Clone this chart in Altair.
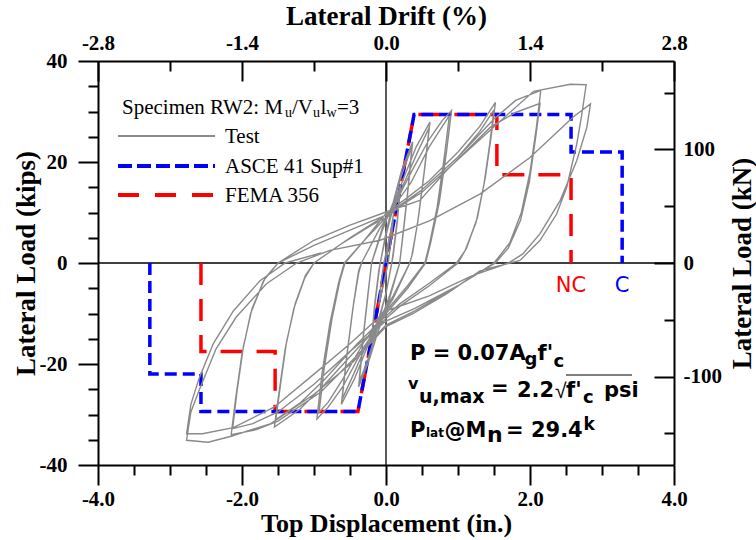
import altair as alt
import pandas as pd

# ---------------- data ----------------
# Test record of specimen RW2: (top displacement [in.], lateral load [kips]), in loading order
cyc_010 = [(0.0, 0.0), (0.05, 5.0), (0.10, 8.6), (0.07, 4.5), (0.03, 0.0), (-0.04, -4.5), (-0.10, -8.4),
           (-0.07, -4.3), (-0.03, 0.0), (0.04, 4.6), (0.10, 8.4), (0.07, 4.4), (0.03, 0.0), (-0.04, -4.6),
           (-0.10, -8.3), (-0.07, -4.0), (-0.03, 0.0)]
cyc_020 = [(0.05, 5.0), (0.12, 11.0), (0.20, 15.5), (0.16, 9.0), (0.10, 2.0), (0.08, 0.0), (0.0, -6.0),
           (-0.10, -11.5), (-0.20, -15.8), (-0.16, -9.0), (-0.10, -2.0), (-0.08, 0.0), (0.0, 5.5),
           (0.10, 11.0), (0.20, 15.0), (0.16, 8.5), (0.10, 1.5), (0.08, 0.0), (0.0, -6.0), (-0.10, -11.0),
           (-0.20, -15.3), (-0.16, -8.5), (-0.10, -1.5), (-0.08, 0.0)]
cyc_035 = [(0.0, 6.0), (0.10, 12.0), (0.22, 18.5), (0.37, 24.0), (0.31, 15.0), (0.24, 6.0), (0.19, 0.0),
           (0.05, -7.0), (-0.12, -14.0), (-0.24, -19.5), (-0.38, -24.5), (-0.32, -15.0), (-0.25, -6.0),
           (-0.20, 0.0), (-0.05, 6.5), (0.10, 12.0), (0.22, 17.5), (0.36, 23.0), (0.30, 14.0), (0.23, 5.0),
           (0.19, 0.0), (0.05, -6.5), (-0.12, -13.0), (-0.25, -19.0), (-0.37, -23.5), (-0.31, -14.0),
           (-0.24, -5.0), (-0.20, 0.0)]
cyc_060 = [(-0.05, 7.0), (0.10, 11.5), (0.25, 17.0), (0.42, 23.0), (0.61, 27.9), (0.54, 19.0), (0.45, 9.0),
           (0.37, 2.0), (0.33, 0.0), (0.10, -7.0), (-0.10, -11.5), (-0.27, -17.0), (-0.44, -23.0),
           (-0.62, -28.0), (-0.55, -19.0), (-0.46, -9.0), (-0.38, -2.0), (-0.34, 0.0), (-0.10, 6.5),
           (0.10, 11.0), (0.27, 16.5), (0.44, 22.0), (0.60, 26.8), (0.53, 18.0), (0.44, 8.0), (0.36, 1.5),
           (0.33, 0.0), (0.10, -6.5), (-0.10, -11.0), (-0.28, -16.5), (-0.45, -22.0), (-0.61, -27.0),
           (-0.54, -18.0), (-0.45, -8.0), (-0.38, -1.5), (-0.34, 0.0)]
cyc_090 = [(-0.10, 6.5), (0.10, 11.0), (0.35, 18.0), (0.60, 24.5), (0.78, 28.2), (0.91, 30.2), (0.84, 22.0),
           (0.74, 12.0), (0.62, 4.0), (0.55, 0.0), (0.30, -5.0), (0.0, -10.0), (-0.30, -16.5),
           (-0.60, -24.5), (-0.80, -28.5), (-0.96, -30.9), (-0.89, -22.0), (-0.78, -12.0), (-0.66, -4.0),
           (-0.58, 0.0), (-0.30, 4.5), (0.0, 9.0), (0.35, 16.0), (0.60, 23.0), (0.78, 27.0), (0.88, 29.2),
           (0.81, 21.0), (0.71, 11.0), (0.60, 3.5), (0.54, 0.0), (0.30, -4.5), (0.0, -9.5), (-0.30, -15.5),
           (-0.60, -23.0), (-0.80, -27.5), (-0.93, -29.6), (-0.86, -21.0), (-0.75, -11.0), (-0.64, -3.5),
           (-0.57, 0.0)]
cyc_150 = [(-0.30, 4.5), (0.0, 9.8), (0.30, 13.0), (0.60, 16.3), (1.00, 22.0), (1.30, 27.0), (1.52, 31.8),
           (1.46, 25.0), (1.38, 17.0), (1.27, 9.0), (1.12, 3.0), (1.00, 0.0), (0.60, -4.5), (0.20, -8.5),
           (0.0, -11.0), (-0.40, -17.0), (-0.85, -24.0), (-1.20, -29.0), (-1.55, -32.5), (-1.48, -25.0),
           (-1.40, -17.0), (-1.28, -9.0), (-1.13, -3.0), (-1.00, 0.0), (-0.60, 4.0), (-0.20, 7.5),
           (0.0, 9.0), (0.50, 14.5), (1.00, 21.0), (1.30, 26.0), (1.50, 30.3), (1.44, 23.5), (1.36, 15.5),
           (1.25, 8.0), (1.10, 2.5), (0.98, 0.0), (0.60, -4.0), (0.20, -8.0), (0.0, -10.5), (-0.40, -16.0),
           (-0.85, -23.0), (-1.20, -27.8), (-1.53, -31.0), (-1.46, -23.5), (-1.38, -15.5), (-1.26, -8.0),
           (-1.12, -2.5), (-1.00, 0.0)]
cyc_210 = [(-0.50, 5.0), (0.0, 9.5), (0.50, 14.5), (1.00, 21.0), (1.50, 28.5), (1.80, 32.2), (2.15, 34.2),
           (2.09, 27.0), (2.00, 18.0), (1.88, 10.0), (1.72, 4.0), (1.50, 0.0), (1.00, -4.5), (0.40, -9.5),
           (0.0, -12.3), (-0.45, -19.0), (-0.90, -25.5), (-1.50, -31.3), (-1.80, -33.0), (-2.15, -34.0),
           (-2.09, -27.0), (-2.00, -18.0), (-1.88, -10.0), (-1.70, -3.5), (-1.50, 0.0), (-1.00, 4.5),
           (-0.50, 7.5), (0.0, 10.1), (0.47, 12.4), (0.84, 18.3), (1.45, 26.9), (1.80, 29.8), (2.14, 31.6),
           (2.08, 25.0), (1.99, 16.0), (1.87, 8.5), (1.70, 3.0), (1.52, 0.0), (1.00, -4.5), (0.40, -9.0),
           (0.0, -11.5), (-0.50, -17.5), (-1.00, -24.0), (-1.50, -29.5), (-1.85, -31.8), (-2.13, -32.8),
           (-2.07, -25.5), (-1.98, -16.5), (-1.86, -9.0), (-1.68, -3.0), (-1.50, 0.0)]
cyc_280 = [(-1.00, 3.5), (-0.50, 6.5), (0.0, 9.5), (0.50, 14.0), (1.00, 20.5), (1.50, 27.0), (2.05, 34.0),
           (2.56, 35.4), (2.78, 35.3), (2.72, 29.5), (2.65, 23.6), (2.51, 15.0), (2.37, 9.7), (2.14, 4.5),
           (1.86, 0.5), (1.31, -1.5), (0.84, -6.1), (0.38, -10.0), (0.0, -12.6), (-0.45, -19.5),
           (-1.00, -26.0), (-1.60, -31.8), (-2.15, -34.3), (-2.47, -35.5), (-2.77, -35.1), (-2.71, -29.5),
           (-2.59, -25.0), (-2.36, -17.0), (-2.08, -10.7), (-1.66, -4.1), (-1.24, 0.0), (-0.78, 2.5),
           (-0.08, 4.5), (0.61, 8.4), (1.31, 13.7), (2.00, 20.9), (2.60, 28.9), (2.84, 31.5), (2.79, 26.9),
           (2.65, 20.3), (2.42, 12.4), (2.14, 5.8), (1.90, 1.8), (1.70, 0.0), (1.20, -2.5), (0.60, -6.5),
           (0.0, -9.5), (-0.50, -16.0), (-1.00, -22.0), (-1.55, -28.5), (-2.12, -32.6), (-2.55, -33.8),
           (-2.77, -33.8), (-2.71, -28.0), (-2.60, -23.0), (-2.40, -16.0), (-2.12, -9.5), (-1.75, -3.5),
           (-1.40, 0.0), (-0.90, 2.0)]

# Backbone models (displacement in., load kips)
asce_x = [-3.28, -3.28, -2.57, -2.57, -0.39, 0.39, 2.57, 2.57, 3.28, 3.28]
asce_y = [0.0, -22.0, -22.0, -29.4, -29.4, 29.4, 29.4, 22.0, 22.0, 0.0]
fema_x = [-2.57, -2.57, -1.54, -1.54, -0.39, 0.39, 1.54, 1.54, 2.57, 2.57]
fema_y = [0.0, -17.5, -17.5, -29.4, -29.4, 29.4, 29.4, 17.5, 17.5, 0.0]

# Axis ticks
disp_ticks = [-4.0, -3.5, -3.0, -2.5, -2.0, -1.5, -1.0, -0.5, 0.0, 0.5, 1.0, 1.5, 2.0, 2.5, 3.0, 3.5, 4.0]
disp_labels = [-4, -2, 0, 2, 4]
kips_ticks = [-40, -35, -30, -25, -20, -15, -10, -5, 0, 5, 10, 15, 20, 25, 30, 35, 40]
kips_labels = [-40, -20, 0, 20, 40]
drift_ticks = [-2.8, -2.1, -1.4, -0.7, 0.0, 0.7, 1.4, 2.1, 2.8]
drift_labels = [-2.8, -1.4, 0.0, 1.4, 2.8]
kn_ticks = [-150, -100, -50, 0, 50, 100, 150]
kn_labels = [-100, 0, 100]

KN_PER_KIP = 4.44822
disp_dom = [-4, 4]
kips_dom = [-40, 40]
drift_dom = [-2.8, 2.8]
kn_dom = [kips_dom[0] * KN_PER_KIP, kips_dom[1] * KN_PER_KIP]

# ---------------- layout / styles ----------------
W, H = 576, 404
SERIF = "Liberation Serif"
SANS = "DejaVu Sans"
GRAY = "#8a8a8a"
BLUE = "#0000ff"
RED = "#ff0000"


def sc(dom):
    return alt.Scale(domain=dom, nice=False, zero=False)


def lab_expr(fmt):
    # plain hyphen for negative numbers
    return f"datum.value < 0 ? '-' + format(-datum.value, '{fmt}') : format(datum.value, '{fmt}')"


common_lab = dict(ticks=False, tickSize=0, domain=False, grid=False, labelFont=SERIF, labelFontSize=21,
                  labelFontWeight="bold", labelColor="black", labelFlush=False, labelOverlap=False,
                  titleFont=SERIF, titleFontWeight="bold", titleColor="black", titleBaseline="alphabetic")
common_tick = dict(labels=False, ticks=True, tickWidth=2, tickColor="black", domain=True, domainWidth=2,
                   domainColor="black", grid=False, title=None)

x_lab_axis = alt.Axis(orient="bottom", values=disp_labels, labelExpr=lab_expr(".1f"), labelBaseline="alphabetic",
                      labelPadding=40, title="Top Displacement (in.)", titleFontSize=26, titleY=66, **common_lab)
y_lab_axis = alt.Axis(orient="left", values=kips_labels, labelExpr=lab_expr("d"), labelBaseline="middle",
                      labelPadding=31, title="Lateral Load (kips)", titleFontSize=27, titleAngle=270, titleX=-64,
                      **common_lab)
x_top_axis = alt.Axis(orient="top", values=drift_labels, labelExpr=lab_expr(".1f"), labelBaseline="alphabetic",
                      labelPadding=12, title="Lateral Drift (%)", titleFontSize=27, titleY=-37, **common_lab)
y_right_axis = alt.Axis(orient="right", values=kn_labels, labelExpr=lab_expr("d"), labelBaseline="middle",
                        labelAlign="left", labelPadding=9, title="Lateral Load (kN)", titleFontSize=27,
                        titleAngle=270, titleX=76, **common_lab)


def tick_size(test):
    return {"condition": {"test": test, "value": 20}, "value": 10}


x_bot_ticks = alt.Axis(orient="bottom", values=disp_ticks, tickSize=tick_size("datum.value % 2 === 0"), **common_tick)
y_left_ticks = alt.Axis(orient="left", values=kips_ticks, tickSize=tick_size("datum.value % 20 === 0"), **common_tick)
# inward ticks on the top and right frame
x_top_ticks = alt.Axis(orient="bottom", offset=-H, values=drift_ticks,
                       tickSize=tick_size("abs(datum.value) % 1.4 < 0.01 || abs(datum.value) % 1.4 > 1.39"),
                       **common_tick)
y_right_ticks = alt.Axis(orient="left", offset=-W, values=kn_ticks,
                         tickSize=tick_size("datum.value % 100 === 0"), **common_tick)

one = pd.DataFrame({"k": [0]})

# ---------------- main data layer ----------------
test_path = cyc_010 + cyc_020 + cyc_035 + cyc_060 + cyc_090 + cyc_150 + cyc_210 + cyc_280
test_df = pd.DataFrame(test_path, columns=["d", "k"])
test_df["i"] = range(len(test_df))
asce_df = pd.DataFrame({"d": asce_x, "k": asce_y, "i": range(len(asce_x))})
fema_df = pd.DataFrame({"d": fema_x, "k": fema_y, "i": range(len(fema_x))})


def xy(df_x="d", df_y="k"):
    return dict(x=alt.X(f"{df_x}:Q", scale=sc(disp_dom), axis=x_lab_axis),
                y=alt.Y(f"{df_y}:Q", scale=sc(kips_dom), axis=y_lab_axis))


zero_v = alt.Chart(one).mark_rule(color="black", strokeWidth=1.3).encode(
    x=alt.X(datum=0, scale=sc(disp_dom), axis=x_lab_axis))
zero_h = alt.Chart(one).mark_rule(color="black", strokeWidth=1.3).encode(
    y=alt.Y(datum=0, scale=sc(kips_dom), axis=y_lab_axis))

fema_line = alt.Chart(fema_df).mark_line(color=RED, strokeWidth=3.5, strokeDash=[22, 14], strokeCap="butt").encode(
    order="i:Q", **xy())
asce_line = alt.Chart(asce_df).mark_line(color=BLUE, strokeWidth=3.5, strokeDash=[12, 6], strokeCap="butt").encode(
    order="i:Q", **xy())
test_line = alt.Chart(test_df).mark_line(color=GRAY, strokeWidth=1.4).encode(order="i:Q", **xy())

limit_df = pd.DataFrame({"d": [fema_x[-1], asce_x[-1]], "k": [-5.8, -5.8], "t": ["NC", "C"], "c": [RED, BLUE]})
limit_text = alt.Chart(limit_df).mark_text(font=SANS, fontSize=21, align="center", baseline="alphabetic").encode(
    text="t:N", color=alt.Color("c:N", scale=None), **xy())


def note(text, x, y, size=21, font=SANS, weight="bold", color="black"):
    return alt.Chart(one).mark_text(text=text, font=font, fontSize=size, fontWeight=weight, color=color,
                                     align="left", baseline="alphabetic").encode(x=alt.value(x), y=alt.value(y))


def serif(text, x, y, size=21):
    return note(text, x, y, size=size, font=SERIF, weight="normal")


def swatch(y, color, width, dash=None):
    kw = dict(color=color, strokeWidth=width, strokeCap="butt")
    if dash:
        kw["strokeDash"] = dash
    return alt.Chart(one).mark_rule(**kw).encode(x=alt.value(20), x2=alt.value(117), y=alt.value(y))


legend = [
    serif("Specimen RW2: M", 24, 53),
    serif("u", 187, 56, size=14),
    serif("/V", 194, 53),
    serif("u", 215, 56, size=14),
    serif("l", 222.5, 53),
    serif("w", 228.5, 56, size=14),
    serif("=3", 239, 53),
    swatch(75, GRAY, 2),
    swatch(105, BLUE, 4, [14, 5]),
    swatch(134, RED, 4, [21, 16]),
    serif("Test", 127, 81.7),
    serif("ASCE 41 Sup#1", 127, 112.3),
    serif("FEMA 356", 127, 140.7),
]

notes = [
    # P = 0.07 Ag f'c
    note("P = 0.07A", 312, 299),
    note("g", 426.5, 304, size=18),
    note("f'", 439.5, 299),
    note("c", 455.5, 306, size=18),
    # v_u,max = 2.2 sqrt(f'c) psi
    note("v", 310, 328, size=16),
    note("u,max", 321, 341.7, size=19),
    note("=", 393, 333.5),
    note("2.2", 419, 335.7),
    note("\u221a", 457, 337, font="Liberation Sans", weight="normal"),
    note("f'", 468, 335.7),
    note("c", 485, 342, size=18),
    note("psi", 506, 335.7),
    # P_lat @ M_n = 29.4 k
    note("P", 312, 375.7),
    note("lat", 328, 376, size=12),
    note("@M", 346.5, 375.7),
    note("n", 389, 380.7, size=22),
    note("= 29.4", 408, 375.7),
    note("k", 485.5, 369, size=17),
]
sqrt_bar = alt.Chart(one).mark_rule(color="black", strokeWidth=1.2).encode(
    x=alt.value(468), x2=alt.value(534), y=alt.value(314))

main = alt.layer(zero_v, zero_h, fema_line, asce_line, test_line, limit_text, *legend, *notes, sqrt_bar)

# ---------------- frame / secondary axes ----------------
frame_df = pd.DataFrame({"a": disp_dom, "b": kips_dom})
frame = alt.Chart(frame_df).mark_point(opacity=0).encode(
    x=alt.X("a:Q", scale=sc(disp_dom), axis=x_bot_ticks),
    y=alt.Y("b:Q", scale=sc(kips_dom), axis=y_left_ticks))

sec_df = pd.DataFrame({"a": drift_dom, "b": kn_dom})
secondary = alt.Chart(sec_df).mark_point(opacity=0).encode(
    x=alt.X("a:Q", scale=sc(drift_dom), axis=x_top_axis),
    y=alt.Y("b:Q", scale=sc(kn_dom), axis=y_right_axis))
secondary_ticks = alt.Chart(sec_df).mark_point(opacity=0).encode(
    x=alt.X("a:Q", scale=sc(drift_dom), axis=x_top_ticks),
    y=alt.Y("b:Q", scale=sc(kn_dom), axis=y_right_ticks))

chart = (
    alt.layer(main, frame, secondary, secondary_ticks)
    .resolve_scale(x="independent", y="independent")
    .properties(width=W, height=H, padding={"left": 98, "top": 61, "right": 82, "bottom": 75},
                autosize=alt.AutoSizeParams(type="none"), background="white")
    .configure_view(stroke=None)
)

chart.save("out.html", embed_options={"renderer": "svg", "actions": False})
